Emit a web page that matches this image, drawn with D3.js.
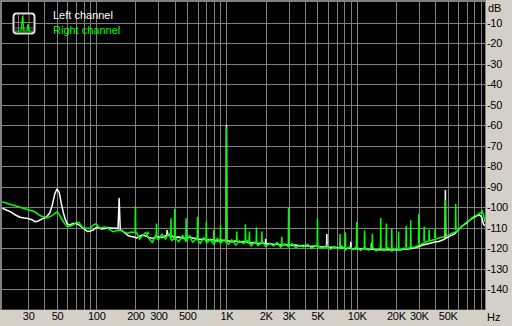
<!DOCTYPE html>
<html>
<head>
<meta charset="utf-8">
<script src="https://cdn.jsdelivr.net/npm/d3@7"></script>
<style>
html, body { margin: 0; padding: 0; background: #d4d0c8; }
svg { display: block; }
text { font-family: "Liberation Sans", Arial, sans-serif; font-size: 11px; }
</style>
</head>
<body>
<svg id="chart" width="512" height="326"></svg>
<script>
// spectrum bins (Hz) shared by both channels
const freqs = [19, 20, 22, 24, 26, 28, 30, 32, 34, 36, 38, 40, 42, 44, 46, 48, 50, 52, 54, 56, 58, 60, 63, 66, 70, 74, 78, 82, 86, 90, 95,
  100, 105, 110, 116, 122, 128, 135, 142, 147, 150, 153, 158, 166, 175, 185, 195, 205, 215, 225, 240, 255, 270, 285, 300, 320, 340,
  360, 380, 400, 430, 460, 490, 520, 550, 590, 630, 670, 710, 750, 800, 850, 900, 960, 1040, 1100, 1180, 1260, 1350, 1450, 1550,
  1650, 1750, 1900, 2000, 2150, 2300, 2450, 2600, 2800, 3000, 3200, 3400, 3650, 3900, 4200, 4500, 4800, 5500, 5900, 6300, 6700,
  7200, 7700, 8200, 8800, 9400, 10000, 10700, 11500, 12300, 13200, 14100, 15100, 16200, 17400, 18600, 20000, 21400, 23000, 24600,
  26300, 28200, 30200, 32400, 34700, 37200, 39800, 42700, 45700, 49000, 52500, 56200, 60200, 64600, 69200, 74100, 79400, 85100,
  88000, 91200, 94000, 96700];

// noise floor, dB
const leftDb = [-100.6, -101.2, -102.4, -103.9, -105.0, -105.4, -105.6, -106.2, -107.2, -106.8, -105.9, -105.4, -104.4, -102.9,
  -99.0, -93.7, -91.2, -92.9, -98.5, -102.9, -106.3, -108.3, -108.8, -108.0, -108.0, -108.8, -110.0, -111.0, -112.0, -111.7, -111.2,
  -110.0, -110.2, -110.7, -110.5, -110.0, -110.2, -110.4, -110.4, -110.6, -95.8, -111.2, -111.5, -112.7, -113.9, -114.4, -114.6,
  -115.1, -114.4, -113.7, -114.1, -114.9, -115.3, -114.9, -114.5, -114.9, -114.1, -113.7, -114.1, -114.9, -114.6, -115.1, -115.4,
  -114.6, -115.1, -115.4, -115.9, -115.6, -116.1, -115.9, -116.1, -116.6, -116.1, -116.3, -116.6, -116.9, -116.6, -117.1, -116.8,
  -117.3, -117.6, -117.3, -117.8, -117.6, -118.0, -117.8, -118.3, -118.0, -118.5, -118.3, -118.5, -118.8, -118.5, -119.0, -118.8,
  -119.0, -119.3, -119.0, -119.5, -119.3, -119.8, -119.5, -120.0, -119.8, -120.2, -120.0, -120.5, -120.2, -120.5, -120.2, -120.7,
  -120.5, -121.0, -120.7, -121.0, -120.7, -121.0, -120.7, -121.0, -120.5, -120.5, -120.2, -119.8, -119.3, -118.5, -118.0, -117.6,
  -117.1, -116.8, -116.1, -115.1, -114.1, -113.2, -111.2, -109.3, -108.0, -106.3, -105.1, -104.1, -103.9, -104.9, -108.3, -109.3];

const rightDb = [-97.4, -97.9, -98.8, -99.4, -100.1, -100.7, -101.3, -101.8, -102.4, -103.7, -104.5, -104.8, -105.4, -104.7,
  -104.1, -103.2, -102.3, -103.7, -105.6, -107.2, -108.5, -109.5, -109.4, -108.8, -107.6, -107.6, -109.8, -110.4, -110.4, -110.4,
  -108.8, -108.2, -110.0, -110.2, -109.7, -110.2, -111.2, -112.0, -111.6, -111.5, -111.4, -111.5, -111.7, -112.4, -112.8, -112.2,
  -112.4, -112.6, -115.8, -114.2, -112.4, -115.6, -117.3, -113.9, -116.0, -113.2, -115.7, -112.8, -116.5, -114.8, -117.0, -113.9,
  -116.8, -114.0, -117.2, -115.3, -117.8, -114.9, -117.5, -115.6, -118.3, -115.3, -117.6, -116.1, -118.2, -116.0, -118.6, -116.5,
  -117.9, -116.4, -119.0, -117.1, -118.8, -117.0, -119.3, -117.8, -119.0, -117.3, -119.6, -118.1, -119.4, -117.9, -119.9, -118.6,
  -119.5, -118.2, -120.3, -118.9, -120.0, -118.6, -120.6, -119.4, -120.4, -119.0, -121.0, -119.5, -120.8, -119.3, -121.2, -119.8,
  -121.0, -119.6, -121.4, -120.1, -121.2, -119.9, -121.5, -120.3, -121.1, -120.1, -120.2, -119.8, -119.5, -118.5, -117.8, -116.8,
  -116.3, -115.9, -115.1, -114.6, -114.1, -113.2, -112.4, -111.5, -109.3, -107.6, -106.3, -104.6, -103.7, -102.9, -102.7, -103.4,
  -107.3, -108.3];

// narrow tones: [Hz, floor dB, peak dB]
const leftSpikes = [[350, -114.1, -111.2], [1000, -116.1, -60.0], [2000, -118.0, -115.5],
  [5900, -119.5, -113.2], [9000, -120.2, -117.0], [13000, -120.5, -117.5], [48000, -115.1, -91.7]];
const rightSpikes = [[200, -112.7, -99.5], [250, -113.2, -112.0], [290, -115.1, -108.0], [375, -115.1, -105.5],
  [400, -116.1, -101.0], [490, -116.6, -105.5], [600, -116.1, -104.7], [700, -117.1, -107.2], [800, -117.1, -111.2],
  [900, -117.1, -108.8], [1000, -117.1, -60.8], [1200, -117.1, -112.0], [1400, -117.6, -108.4], [1500, -117.6, -112.0],
  [1700, -118.0, -109.9], [1870, -118.0, -112.0], [2660, -118.5, -114.5], [3000, -118.5, -100.1], [5000, -119.0, -105.5],
  [7450, -119.8, -113.2], [8200, -119.5, -112.5], [10000, -120.2, -107.3], [11500, -120.2, -111.5], [13200, -120.5, -113.0],
  [15300, -120.5, -105.4], [16900, -120.5, -108.0], [18600, -120.2, -110.7], [21000, -120.0, -112.0], [24000, -119.8, -109.3],
  [26000, -119.5, -106.5], [30000, -117.8, -103.4], [33000, -116.8, -109.5], [36000, -116.3, -111.0], [40000, -115.1, -110.7],
  [48000, -113.2, -96.6], [57600, -111.2, -98.5], [91700, -103.4, -101.5]];

const gridFreqs = [30, 40, 50, 60, 70, 80, 90, 100, 200, 300, 400, 500, 600, 700, 800, 900, 1000, 2000, 3000, 4000, 5000,
  6000, 7000, 8000, 9000, 10000, 20000, 30000, 40000, 50000, 60000, 70000, 80000, 90000];
const labelFreqs = [30, 50, 100, 200, 300, 500, 1000, 2000, 3000, 5000, 10000, 20000, 30000, 50000];
const labelText = ["30", "50", "100", "200", "300", "500", "1K", "2K", "3K", "5K", "10K", "20K", "30K", "50K"];
const dbTicks = [-10, -20, -30, -40, -50, -60, -70, -80, -90, -100, -110, -120, -130, -140];

const plot = {left: 2, right: 485, top: 2, bottom: 309.5};
const svg = d3.select('#chart');

const x = d3.scaleLog().domain([18.9, 96700]).range([plot.left, plot.right]);
const y = d3.scaleLinear().domain([0, -150]).range([plot.top, plot.bottom]);

// sunken frame + black plot area
svg.append('rect').attr('x', 0).attr('y', 0).attr('width', plot.right + 1).attr('height', plot.bottom + 0.5).attr('fill', '#808080');
svg.append('rect').attr('x', plot.left).attr('y', plot.top)
  .attr('width', plot.right - plot.left).attr('height', plot.bottom - plot.top).attr('fill', '#000');

// grid lines from axes
const xGrid = svg.append('g').attr('transform', `translate(0,${plot.bottom})`)
  .call(d3.axisBottom(x).tickValues(gridFreqs).tickFormat('').tickSize(-(plot.bottom - plot.top)));
const yGrid = svg.append('g').attr('transform', `translate(${plot.right},0)`)
  .call(d3.axisRight(y).tickValues(dbTicks).tickFormat('').tickSize(-(plot.right - plot.left)));
[xGrid, yGrid].forEach(g => {
  g.select('.domain').remove();
  g.selectAll('line').attr('stroke', '#808080').attr('shape-rendering', 'crispEdges');
});

// tick labels
const xLab = svg.append('g').attr('transform', `translate(0,${plot.bottom})`)
  .call(d3.axisBottom(x).tickValues(labelFreqs).tickFormat((d, i) => labelText[i]).tickSize(0).tickPadding(2.7));
const yLab = svg.append('g').attr('transform', `translate(${plot.right},0)`)
  .call(d3.axisRight(y).tickValues(dbTicks).tickFormat(d => d).tickSize(0).tickPadding(2));
[xLab, yLab].forEach(g => {
  g.select('.domain').remove();
  g.selectAll('text').attr('fill', '#000').attr('font-family', '"Liberation Sans", Arial, sans-serif')
    .attr('font-size', 11).attr('letter-spacing', -0.3);
});
svg.append('text').attr('x', 488).attr('y', 12).text('dB');
svg.append('text').attr('x', 487).attr('y', 321).text('Hz');

// spectra
const line = d3.line().x(d => x(d[0])).y(d => y(d[1]));
const channels = [
  {db: leftDb, spikes: leftSpikes, color: '#ffffff'},
  {db: rightDb, spikes: rightSpikes, color: '#00ff00'}
];
const clip = svg.append('clipPath').attr('id', 'clip').append('rect')
  .attr('x', plot.left).attr('y', plot.top).attr('width', plot.right - plot.left).attr('height', plot.bottom - plot.top);
const traces = svg.append('g').attr('clip-path', 'url(#clip)');
for (const ch of channels) {
  traces.append('path')
    .datum(freqs.map((f, i) => [f, ch.db[i]]))
    .attr('d', line)
    .attr('fill', 'none')
    .attr('stroke', ch.color)
    .attr('stroke-width', 1.5)
    .attr('stroke-linejoin', 'round');
  traces.selectAll(null).data(ch.spikes).join('path')
    .attr('d', d => line([[d[0] * 0.995, d[1]], [d[0], d[2]], [d[0] * 1.005, d[1]]]))
    .attr('fill', 'none')
    .attr('stroke', ch.color)
    .attr('stroke-width', 1.5);
}

// legend
const legend = svg.append('g');
legend.append('rect').attr('x', 13.5).attr('y', 13.5).attr('width', 21).attr('height', 20).attr('rx', 3)
  .attr('fill', '#000').attr('stroke', '#e0e0e0').attr('stroke-width', 2);
[18.5, 23, 29].forEach(v => legend.append('line').attr('x1', v).attr('x2', v).attr('y1', 15).attr('y2', 32).attr('stroke', '#808080'));
[22.5, 28].forEach(v => legend.append('line').attr('x1', 15).attr('x2', 33).attr('y1', v).attr('y2', v).attr('stroke', '#808080'));
legend.append('path').attr('d', 'M15,31 L21,31 L22.5,16 L24,31 L27,31 L28,24 L29,31 L33,31')
  .attr('fill', 'none').attr('stroke', '#00ff00').attr('stroke-width', 1.2);
legend.append('text').attr('x', 53).attr('y', 18.5).attr('fill', '#fff').text('Left channel');
legend.append('text').attr('x', 53).attr('y', 34).attr('fill', '#00ff00').text('Right channel');
</script>
</body>
</html>
